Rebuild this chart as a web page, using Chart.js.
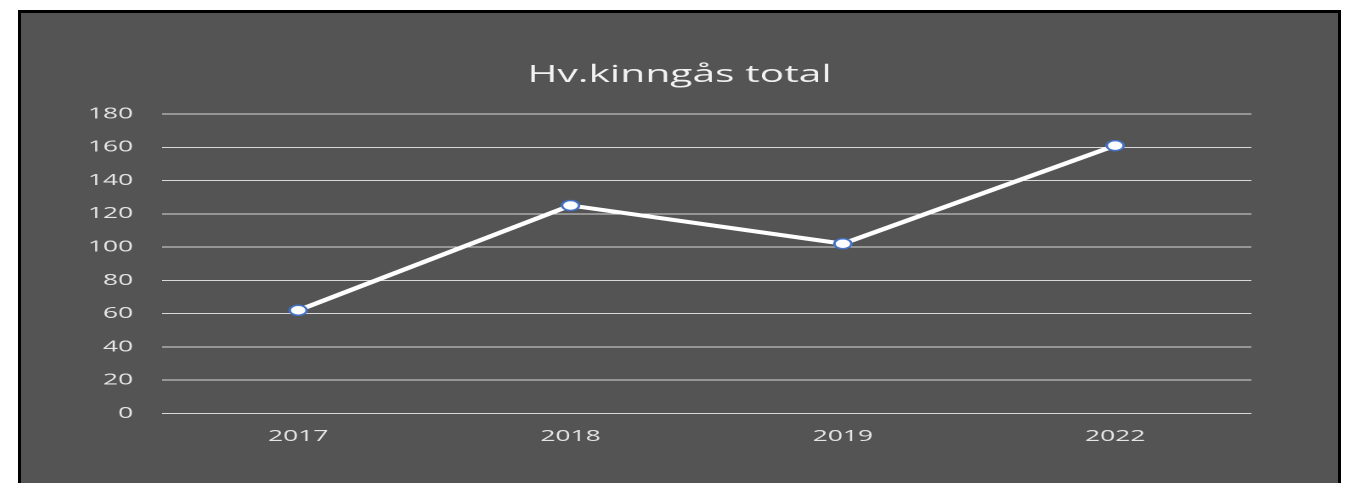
<!DOCTYPE html>
<html><head><meta charset="utf-8">
<script src="https://cdn.jsdelivr.net/npm/chart.js@4"></script>
<style>
html,body{margin:0;padding:0;background:#fff;width:1350px;height:483px;overflow:hidden}
#frame{position:absolute;left:18px;top:10px;width:1317px;height:480px;border:3px solid #000;border-bottom:none;background:#545454;overflow:hidden}
#wrap{position:absolute;left:0;top:0;width:775px;height:470px;transform:scaleX(1.6994);transform-origin:0 0}
</style></head>
<body>
<div id="frame"><div id="wrap"><canvas id="c" width="775" height="470"></canvas></div></div>
<script>
const categories = ['2017', '2018', '2019', '2022'];
const values = [62, 125, 102, 161];
const yMin = 0, yMax = 180, yStep = 20;
const titleText = 'Hv.kinngås total';

const fontFamily = '"Open Sans", sans-serif';
new Chart(document.getElementById('c'), {
  type: 'line',
  data: {
    labels: categories,
    datasets: [{
      data: values,
      borderColor: '#ffffff',
      borderWidth: 4,
      tension: 0,
      pointRadius: 5,
      pointBackgroundColor: '#ffffff',
      pointBorderColor: '#4472C4',
      pointBorderWidth: 1.5
    }]
  },
  options: {
    responsive: false,
    devicePixelRatio: 2,
    animation: false,
    layout: { padding: { left: 0, right: 0, top: 0, bottom: 23 } },
    plugins: {
      legend: { display: false },
      tooltip: { enabled: false },
      title: {
        display: true,
        text: titleText,
        color: '#f2f2f2',
        font: { family: fontFamily, size: 24, weight: 'normal' },
        padding: { top: 47.6, bottom: 24.6 }
      }
    },
    scales: {
      x: {
        offset: true,
        grid: { display: false, drawTicks: false },
        border: { display: false },
        ticks: { color: '#e6e6e6', font: { family: fontFamily, size: 15.5 }, padding: 14 }
      },
      y: {
        min: yMin, max: yMax,
        afterFit: s => { s.width = 83; },
        grid: { color: '#d9d9d9', lineWidth: 1, drawTicks: false },
        border: { display: false },
        ticks: { stepSize: yStep, color: '#e6e6e6', font: { family: fontFamily, size: 15.5 }, padding: 17 }
      },
      yR: {
        position: 'right',
        display: true,
        afterFit: s => { s.width = 51; },
        grid: { display: false, drawTicks: false },
        border: { display: false },
        ticks: { display: false }
      }
    }
  }
});
</script>
</body></html>
